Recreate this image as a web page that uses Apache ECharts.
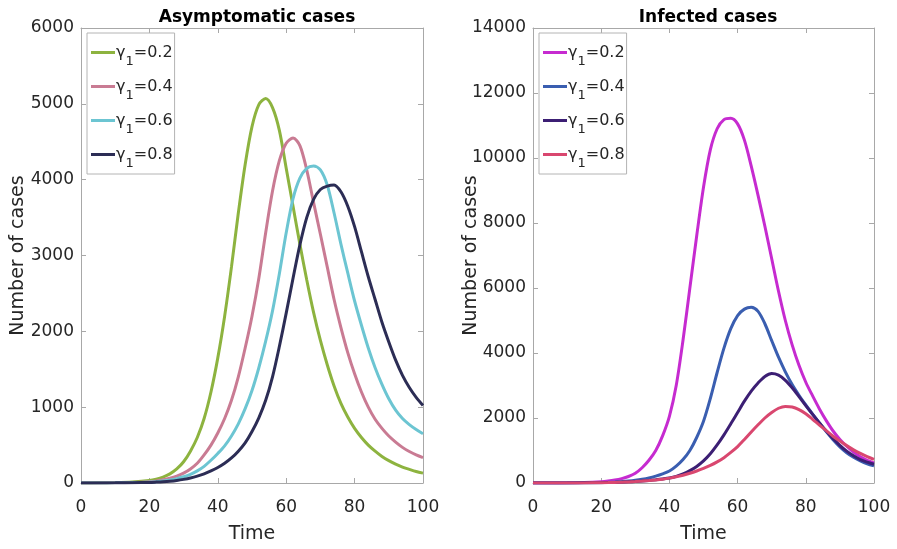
<!DOCTYPE html>
<html>
<head>
<meta charset="utf-8">
<script src="https://cdn.jsdelivr.net/npm/echarts@6/dist/echarts.min.js"></script>
<style>
  html, body { margin: 0; padding: 0; background: #fff; }
  #chart { width: 897px; height: 549px; }
</style>
</head>
<body>
<div id="chart"></div>
<script>
// shared time grid (days)
const time = [0, 5, 10, 15, 20, 22, 24, 26, 28, 30, 32, 34, 36, 38, 40, 42, 44, 46, 48, 50,
  52, 54, 56, 58, 60, 62, 64, 66, 68, 70, 72, 74, 76, 78, 80, 82, 84, 86, 88, 90,
  92, 94, 96, 98, 100];

const gammaLabels = ["0.2", "0.4", "0.6", "0.8"];

// asymptomatic cases
const asym02 = [0, 2, 5, 13, 32, 50, 78, 120, 185, 280, 420, 600, 850, 1200, 1650, 2200, 2850, 3560, 4200, 4700,
  4990, 5070, 4950, 4650, 4150, 3650, 3150, 2680, 2250, 1880, 1560, 1280, 1050, 870, 720, 600, 500, 420, 350, 295,
  250, 210, 180, 152, 130];
const asym04 = [0, 1, 3, 8, 18, 28, 42, 62, 90, 130, 185, 260, 370, 500, 660, 850, 1090, 1400, 1780, 2200,
  2700, 3300, 3850, 4250, 4480, 4550, 4450, 4130, 3700, 3280, 2850, 2420, 2050, 1720, 1440, 1200, 1000, 840, 720, 620,
  540, 470, 415, 370, 335];
const asym06 = [0, 1, 2, 5, 12, 18, 27, 40, 58, 82, 115, 160, 220, 300, 390, 490, 620, 780, 980, 1220,
  1520, 1870, 2270, 2760, 3300, 3750, 4020, 4150, 4180, 4130, 3930, 3560, 3150, 2770, 2400, 2080, 1780, 1520, 1300, 1110,
  960, 850, 770, 705, 650];
const asym08 = [0, 1, 2, 4, 8, 12, 17, 24, 34, 48, 66, 90, 120, 160, 205, 260, 330, 420, 530, 680,
  860, 1090, 1400, 1800, 2240, 2700, 3140, 3500, 3740, 3870, 3915, 3930, 3840, 3650, 3380, 3050, 2720, 2420, 2120, 1860,
  1620, 1420, 1260, 1130, 1023];

// infected cases
const inf02 = [0, 2, 6, 15, 40, 60, 90, 135, 200, 300, 470, 700, 1000, 1450, 2050, 3000, 4400, 6000, 7600, 9100,
  10250, 10900, 11180, 11220, 11050, 10550, 9750, 8850, 7900, 6900, 5900, 5000, 4250, 3620, 3100, 2680, 2280, 1920, 1600, 1340,
  1130, 950, 810, 700, 620];
const inf04 = [0, 1, 3, 8, 15, 22, 32, 45, 62, 85, 115, 155, 210, 280, 370, 520, 720, 1000, 1400, 1900,
  2600, 3400, 4150, 4750, 5150, 5350, 5405, 5280, 4900, 4380, 3870, 3420, 3030, 2700, 2400, 2120, 1850, 1580, 1330, 1110,
  930, 790, 680, 590, 527];
const inf06 = [0, 1, 2, 5, 10, 14, 19, 26, 35, 46, 60, 78, 100, 125, 155, 205, 280, 380, 510, 680,
  900, 1170, 1480, 1820, 2170, 2520, 2830, 3080, 3280, 3370, 3320, 3160, 2930, 2660, 2380, 2110, 1850, 1600, 1370, 1160,
  980, 840, 720, 640, 575];
const inf08 = [0, 0, 1, 3, 8, 12, 17, 24, 33, 45, 58, 74, 94, 118, 150, 190, 240, 300, 370, 450,
  540, 650, 780, 940, 1120, 1340, 1570, 1790, 2000, 2170, 2300, 2357, 2340, 2260, 2130, 1960, 1780, 1610, 1440, 1290,
  1150, 1020, 910, 815, 730];

const asymColors = ["#8db33f", "#c97b93", "#6cc5d2", "#2c2d55"];
const infColors = ["#c62bd0", "#3a5eb0", "#3c1f74", "#d9476f"];

const FONT = "DejaVu Sans";
const AXIS_GRAY = "#a8a8a8";
const TEXT = "#262626";

const pairs = (vals) => time.map((t, i) => [t, vals[i]]);

function lineSeries(name, vals, color, axisIdx) {
  return {
    name,
    type: "line",
    xAxisIndex: axisIdx,
    yAxisIndex: axisIdx,
    data: pairs(vals),
    showSymbol: false,
    smooth: 0.3,
    lineStyle: { color, width: 3 },
    itemStyle: { color },
    z: 3,
  };
}

function legendFor(prefix, left) {
  return {
    orient: "vertical",
    left,
    top: 33,
    data: gammaLabels.map((g) => prefix + g),
    icon: "rect",
    itemWidth: 24,
    itemHeight: 3,
    itemGap: 3,
    padding: [4, 2, 4, 4],
    borderColor: "#b4b4b4",
    borderWidth: 1,
    backgroundColor: "#fff",
    selectedMode: false,
    formatter: (name) => "{g|γ}{s|1}{g|=" + name.slice(1) + "}",
    textStyle: {
      fontFamily: FONT,
      color: TEXT,
      padding: [0, 0, 0, -4],
      rich: {
        g: { fontFamily: FONT, fontSize: 16, color: TEXT, lineHeight: 20 },
        s: { fontFamily: FONT, fontSize: 13, color: TEXT, lineHeight: 14, padding: [18, 0, 0, 0] },
      },
    },
  };
}

function xAxes(idx) {
  const base = {
    type: "value",
    gridIndex: idx,
    min: 0,
    max: 100,
    interval: 20,
    splitLine: { show: false },
    axisLine: { show: true, onZero: false, lineStyle: { color: AXIS_GRAY, width: 1 } },
    axisTick: { show: true, inside: true, length: 5, lineStyle: { color: AXIS_GRAY } },
  };
  return [
    Object.assign({}, base, {
      position: "bottom",
      name: "Time",
      nameLocation: "middle",
      nameGap: 42,
      nameMoveOverlap: false,
      nameTextStyle: { fontFamily: FONT, fontSize: 19, color: TEXT },
      axisLabel: { fontFamily: FONT, fontSize: 17, color: TEXT, margin: 16 },
    }),
    Object.assign({}, base, { position: "top", axisLabel: { show: false } }),
  ];
}

function yAxes(idx, max, interval, gap) {
  const base = {
    type: "value",
    gridIndex: idx,
    min: 0,
    max,
    interval,
    splitLine: { show: false },
    axisLine: { show: true, onZero: false, lineStyle: { color: AXIS_GRAY, width: 1 } },
    axisTick: { show: true, inside: true, length: 5, lineStyle: { color: AXIS_GRAY } },
  };
  return [
    Object.assign({}, base, {
      position: "left",
      name: "Number of cases",
      nameLocation: "middle",
      nameGap: gap,
      nameMoveOverlap: false,
      nameTextStyle: { fontFamily: FONT, fontSize: 19, color: TEXT },
      axisLabel: { fontFamily: FONT, fontSize: 17, color: TEXT, margin: 7, formatter: (v) => String(v) },
    }),
    Object.assign({}, base, { position: "right", axisLabel: { show: false } }),
  ];
}

const chart = echarts.init(document.getElementById("chart"), null, { renderer: "canvas" });

const xa = [].concat(xAxes(0), xAxes(1));
const ya = [].concat(yAxes(0, 6000, 1000, 53), yAxes(1, 14000, 2000, 52));
// grid0 uses x0/y0, grid1 uses x2/y2 (1 and 3 are the mirrored top/right frames)
const asymSeries = [asym02, asym04, asym06, asym08].map((v, i) =>
  lineSeries("a" + gammaLabels[i], v, asymColors[i], 0)
);
const infSeries = [inf02, inf04, inf06, inf08].map((v, i) =>
  lineSeries("b" + gammaLabels[i], v, infColors[i], 2)
);

chart.setOption({
  animation: false,
  backgroundColor: "#fff",
  title: [
    {
      text: "Asymptomatic cases",
      left: 252,
      top: 4,
      textAlign: "center",
      textStyle: { fontFamily: FONT, fontSize: 17, fontWeight: "bold", color: "#000" },
    },
    {
      text: "Infected cases",
      left: 703,
      top: 4,
      textAlign: "center",
      textStyle: { fontFamily: FONT, fontSize: 17, fontWeight: "bold", color: "#000" },
    },
  ],
  legend: [legendFor("a", 87), legendFor("b", 539)],
  grid: [
    { left: 81, top: 28, width: 342, height: 459 },
    { left: 533, top: 28, width: 341, height: 459 },
  ],
  xAxis: xa,
  yAxis: ya,
  series: asymSeries.concat(infSeries),
});
</script>
</body>
</html>
